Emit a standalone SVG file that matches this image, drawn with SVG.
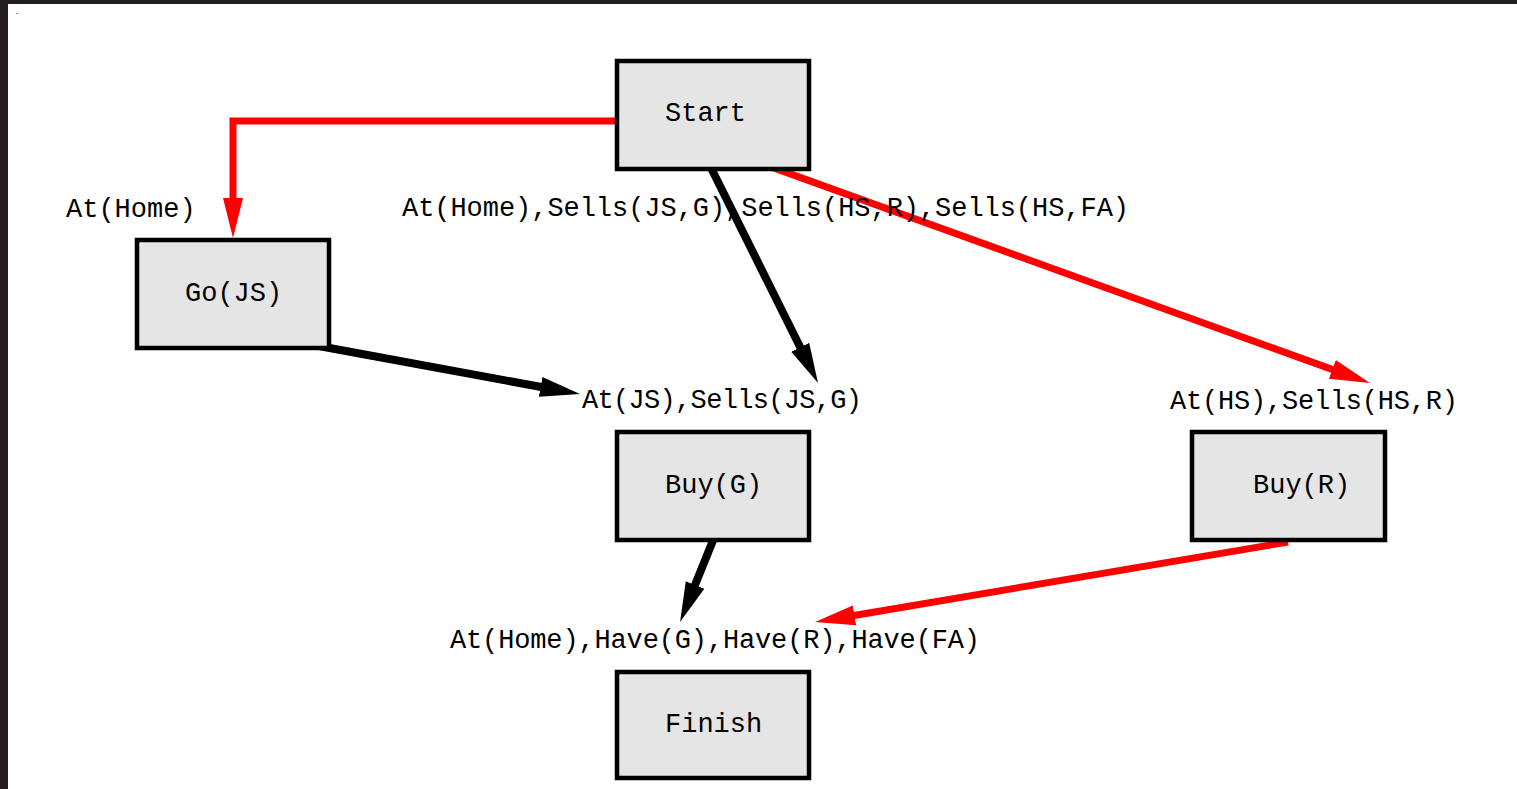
<svg xmlns="http://www.w3.org/2000/svg" width="1517" height="789" viewBox="0 0 1517 789">
  <style>
    .box { fill: #e5e5e5; stroke: #000; stroke-width: 4.5; }
    .lbl { font-family: "Liberation Mono", "DejaVu Sans Mono", monospace; font-size: 27px; fill: #000; }
    .red { fill: none; stroke: #ff0000; stroke-width: 7; }
    .blk { fill: none; stroke: #000; stroke-width: 8; }
  </style>
  <defs>
    <marker id="headRed" markerUnits="userSpaceOnUse" markerWidth="42" markerHeight="22" viewBox="0 0 42 22" refX="2" refY="11" orient="auto">
      <path d="M0,1 L40,11 L0,21 Z" fill="#ff0000"/>
    </marker>
    <marker id="headBlk" markerUnits="userSpaceOnUse" markerWidth="42" markerHeight="22" viewBox="0 0 42 22" refX="2" refY="11" orient="auto">
      <path d="M0,1 L40,11 L0,21 Z" fill="#000"/>
    </marker>
  </defs>

  <!-- page background and frame -->
  <rect x="0" y="0" width="1517" height="789" fill="#fff"/>
  <rect x="0" y="0" width="1517" height="4" fill="#231f20"/>
  <rect x="0" y="0" width="8" height="789" fill="#231f20"/>
  <rect x="16" y="13" width="2" height="1" fill="#999"/>

  <!-- connectors -->
  <g id="connectors">
    <path class="red" d="M615,121 H233 V200" marker-end="url(#headRed)"/>
    <path class="blk" d="M709.6,165 L801.1,349" marker-end="url(#headBlk)"/>
    <path class="red" d="M770.9,166.9 L1334.2,370.1" marker-end="url(#headRed)"/>
    <path class="blk" d="M320,346.3 L542.6,387.2" marker-end="url(#headBlk)"/>
    <path class="blk" d="M714,538 L694.3,586.8" marker-end="url(#headBlk)"/>
    <path class="red" d="M1288,542 L852.5,615.7" marker-end="url(#headRed)"/>
  </g>

  <!-- condition labels -->
  <g id="labels">
    <text class="lbl" x="66" y="217">At(Home)</text>
    <text class="lbl" x="402" y="216" textLength="727">At(Home),Sells(JS,G),Sells(HS,R),Sells(HS,FA)</text>
    <text class="lbl" x="582" y="408" textLength="280">At(JS),Sells(JS,G)</text>
    <text class="lbl" x="1170" y="409" textLength="288">At(HS),Sells(HS,R)</text>
    <text class="lbl" x="450" y="648" textLength="530">At(Home),Have(G),Have(R),Have(FA)</text>
  </g>

  <!-- action nodes -->
  <g id="start">
    <rect class="box" x="617" y="61" width="192" height="108"/>
    <text class="lbl" x="665" y="121">Start</text>
  </g>
  <g id="go-js">
    <rect class="box" x="137" y="240" width="192" height="108"/>
    <text class="lbl" x="185" y="301">Go(JS)</text>
  </g>
  <g id="buy-g">
    <rect class="box" x="617" y="432" width="192" height="108"/>
    <text class="lbl" x="665" y="493">Buy(G)</text>
  </g>
  <g id="buy-r">
    <rect class="box" x="1192" y="432" width="193" height="108"/>
    <text class="lbl" x="1253" y="493">Buy(R)</text>
  </g>
  <g id="finish">
    <rect class="box" x="617" y="672" width="192" height="106"/>
    <text class="lbl" x="665" y="732">Finish</text>
  </g>
</svg>
